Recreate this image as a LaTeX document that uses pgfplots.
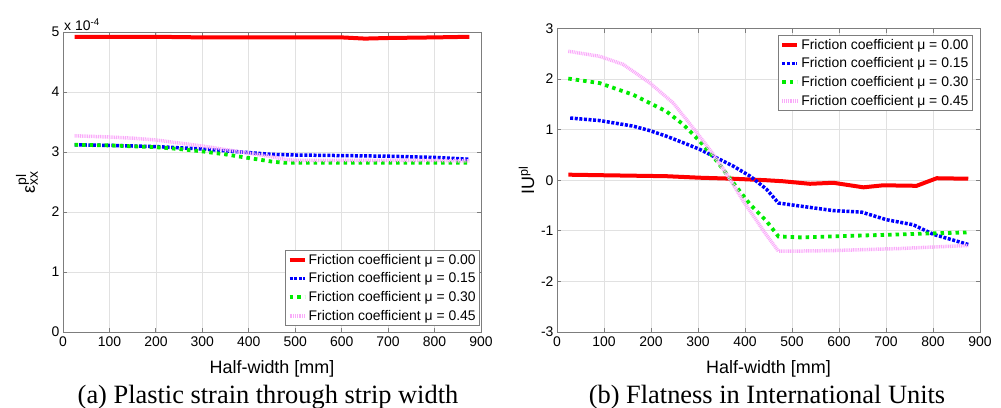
\documentclass[border=0pt]{standalone}
\usepackage{pgfplots}
\pgfplotsset{compat=1.18}
\usepackage{fontspec}
\setmainfont{Liberation Sans}
\newfontfamily\capfont{Liberation Serif}

\definecolor{mred}{RGB}{255,0,0}
\definecolor{mblue}{RGB}{0,0,255}
\definecolor{mgreen}{RGB}{0,235,0}
\definecolor{mpink}{RGB}{250,170,250}
\definecolor{framegray}{RGB}{125,125,125}
\definecolor{gridgray}{RGB}{225,225,225}

\pgfplotsset{
  matlab/.style={
    scale only axis,
    anchor=south west,
    xmin=0, xmax=900,
    xtick={0,100,...,900},
    axis line style={framegray, line width=0.8bp},
    tick style={framegray, line width=0.8bp},
    tick align=inside,
    major tick length=4bp,
    grid=major,
    major grid style={gridgray, line width=0.7bp},
    ticklabel style={font=\fontsize{14}{14}\selectfont},
    xticklabel style={yshift=-1.5bp},
    /pgf/number format/assume math mode=true,
    xlabel={Half-width [mm]},
    xlabel style={font=\fontsize{18}{18}\selectfont, yshift=-7bp},
    ylabel style={font=\fontsize{18}{18}\selectfont},
    legend cell align=left,
    legend style={draw=framegray, line width=0.8bp, fill=white,
      font=\fontsize{14}{14}\selectfont, inner sep=2bp, row sep=3bp},
    legend image code/.code={\draw[#1] (0bp,0bp) -- (15bp,0bp);},
  },
  mu0/.style={mred, line width=4bp},
  mu15/.style={mblue, line width=3.5bp, dash pattern=on 3bp off 1.6bp},
  mu30/.style={mgreen, line width=3.8bp, dash pattern=on 3.5bp off 4bp},
  mu45/.style={mpink, line width=3.5bp, dash pattern=on 1bp off 0.8bp},
}

\begin{document}
\begin{tikzpicture}
\useasboundingbox (0,0) rectangle (1001bp,408bp);

% (a) plastic strain
\begin{axis}[matlab, name=pa,
  at={(63bp,76bp)}, width=418bp, height=300bp,
  ymin=0, ymax=5, ytick={0,1,...,5},
  ylabel={$\mbox{ε}^{\mbox{\fontsize{14}{14}\selectfont pl}}_{\mbox{\fontsize{14}{14}\selectfont xx}}$},
  ylabel style={yshift=7bp},
  legend style={at={(0.998,0.02)}, anchor=south east},
]
\addplot[mu0] coordinates {(25,4.92) (200,4.92) (300,4.91) (400,4.91) (500,4.91) (600,4.91) (650,4.89) (700,4.9) (800,4.91) (875,4.92)};
\addplot[mu15] coordinates {(25,3.12) (100,3.11) (200,3.09) (300,3.05) (350,3.02) (400,2.99) (450,2.96) (500,2.95) (600,2.94) (700,2.93) (800,2.91) (875,2.88)};
\addplot[mu30] coordinates {(25,3.12) (100,3.11) (200,3.08) (250,3.05) (300,3.01) (350,2.96) (400,2.9) (450,2.84) (475,2.82) (600,2.82) (700,2.82) (800,2.82) (875,2.82)};
\addplot[mu45] coordinates {(25,3.27) (100,3.25) (150,3.23) (200,3.2) (250,3.15) (300,3.1) (350,3.04) (400,2.98) (450,2.92) (475,2.88) (500,2.86) (600,2.86) (700,2.86) (800,2.86) (875,2.85)};
\legend{Friction coefficient μ = 0.00, Friction coefficient μ = 0.15, Friction coefficient μ = 0.30, Friction coefficient μ = 0.45}
\end{axis}
\node[anchor=south west, inner sep=1bp, font=\fontsize{14}{14}\selectfont] at (pa.north west) {x 10\textsuperscript{-4}};

% (b) flatness
\begin{axis}[matlab,
  at={(557bp,76bp)}, width=423bp, height=303.5bp,
  ymin=-3, ymax=3, ytick={-3,-2,...,3},
  ylabel={IU\textsuperscript{pl}},
  legend style={at={(0.983,0.979)}, anchor=north east},
]
\addplot[mu0] coordinates {(24,0.11) (91,0.1) (233,0.08) (304,0.05) (375,0.03) (446,0) (481,-0.02) (538,-0.07) (588,-0.05) (652,-0.14) (694,-0.1) (765,-0.11) (808,0.04) (875,0.03)};
\addplot[mu15] coordinates {(28,1.23) (91,1.18) (162,1.07) (198,0.98) (233,0.87) (269,0.74) (304,0.61) (340,0.44) (375,0.28) (411,0.08) (446,-0.18) (471,-0.45) (517,-0.51) (588,-0.6) (648,-0.63) (701,-0.78) (758,-0.88) (801,-1.07) (875,-1.27)};
\addplot[mu30] coordinates {(24,2.01) (91,1.92) (162,1.69) (233,1.36) (269,1.1) (304,0.77) (340,0.38) (375,-0.05) (411,-0.48) (446,-0.81) (471,-1.11) (517,-1.13) (588,-1.11) (659,-1.09) (730,-1.07) (801,-1.05) (875,-1.03)};
\addplot[mu45] coordinates {(24,2.55) (91,2.45) (141,2.29) (198,1.92) (247,1.53) (290,1.03) (333,0.51) (362,0.11) (397,-0.42) (440,-1.01) (471,-1.4) (517,-1.4) (588,-1.39) (659,-1.37) (730,-1.35) (801,-1.32) (875,-1.29)};
\legend{Friction coefficient μ = 0.00, Friction coefficient μ = 0.15, Friction coefficient μ = 0.30, Friction coefficient μ = 0.45}
\end{axis}

\node[anchor=base, font=\capfont\fontsize{26.5}{26.5}\selectfont] at (268bp,5bp) {(a) Plastic strain through strip width};
\node[anchor=base, font=\capfont\fontsize{26.5}{26.5}\selectfont] at (767bp,5bp) {(b) Flatness in International Units};
\end{tikzpicture}
\end{document}
